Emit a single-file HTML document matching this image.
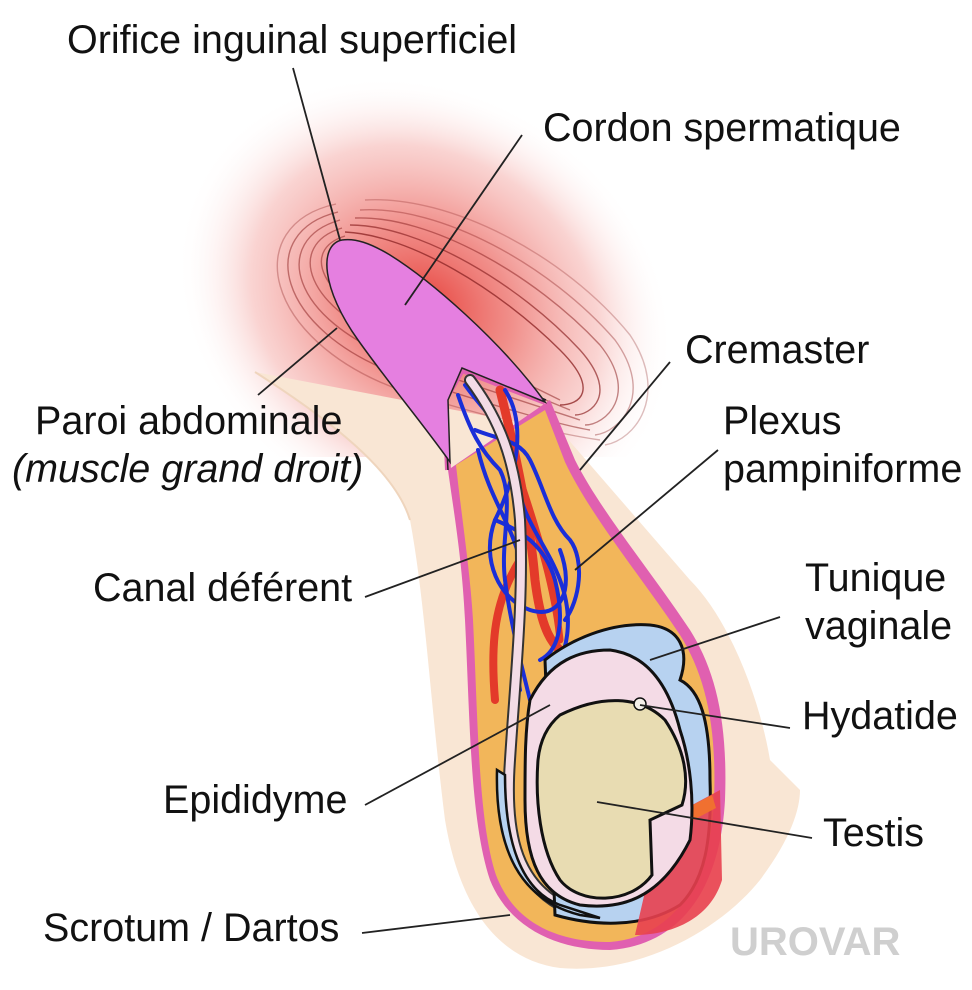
<!DOCTYPE html>
<html><head><meta charset="utf-8"><style>
html,body{margin:0;padding:0;background:#fff}
svg{display:block}
text{font-family:"Liberation Sans",sans-serif;font-size:39.5px;fill:#111}
</style></head><body>
<svg width="972" height="990" viewBox="0 0 972 990" xmlns="http://www.w3.org/2000/svg">
<defs>
<radialGradient id="glow" cx="0.5" cy="0.5" r="0.5">
<stop offset="0" stop-color="#e63a34" stop-opacity="0.95"/>
<stop offset="0.35" stop-color="#ec6a64" stop-opacity="0.75"/>
<stop offset="0.7" stop-color="#f4a8a4" stop-opacity="0.5"/>
<stop offset="1" stop-color="#fff" stop-opacity="0"/>
</radialGradient>
<clipPath id="cut"><rect x="0" y="0" width="972" height="457"/></clipPath>
</defs>
<g clip-path="url(#cut)">
<ellipse cx="425" cy="305" rx="260" ry="215" transform="rotate(32 425 305)" fill="url(#glow)"/>
</g>
<g fill="none" stroke="#902828" stroke-opacity="0.55" stroke-width="1.4">
<path d="M345 236 C300 250 320 300 400 330 C480 360 540 390 560 400"/>
<path d="M342 228 C285 245 305 310 400 345 C480 372 545 400 570 410"/>
<path d="M340 220 C270 240 290 320 400 360 C480 388 550 410 580 420"/>
<path d="M338 212 C255 232 275 330 400 375 C490 405 560 425 590 430"/>
<path d="M336 204 C240 225 262 340 400 390 C495 420 565 435 600 440" stroke-opacity="0.35"/>
<path d="M345 232 C410 235 500 290 560 350 C600 390 580 405 560 405" stroke-opacity="0.8"/>
<path d="M350 225 C420 225 520 285 580 350 C620 395 590 415 575 415" stroke-opacity="0.7"/>
<path d="M355 218 C430 215 535 275 600 345 C640 395 605 425 585 425"/>
<path d="M360 210 C440 205 550 265 615 340 C655 395 620 432 595 435" stroke-opacity="0.4"/>
<path d="M365 200 C450 195 565 255 630 335 C670 395 635 440 605 445" stroke-opacity="0.3"/>
</g>
<path d="M255 372 C330 420 395 470 410 520 C425 600 430 700 445 820 C460 910 500 960 560 968 C640 975 720 930 760 880 C790 840 800 810 800 790 L770 760 C760 700 730 620 690 580 L560 430 Z" fill="#f9e6d4"/>
<path d="M255 372 C330 420 395 470 410 520" fill="none" stroke="#efd5bd" stroke-width="2"/>
<path d="M448 470 C455 520 462 560 465 620 C470 720 470 820 490 880 C510 930 560 950 610 950 C680 945 720 890 725 800 C728 720 715 670 690 630 C650 570 600 510 575 460 L550 400 Z" fill="#e060b0"/>
<path d="M456 465 C462 520 470 570 473 620 C478 720 478 820 496 875 C515 925 560 942 610 942 C672 937 710 885 714 800 C717 725 705 675 680 635 C640 575 590 515 565 462 L545 410 Z" fill="#f2b65a"/>
<path d="M448 470 L445 400 L462 370 L545 402" fill="none" stroke="#e060b0" stroke-width="6"/>
<path d="M448 470 L444 398 L462 366 L546 400" fill="none" stroke="#222" stroke-width="1.5"/>
<path d="M342 240 C318 245 322 290 358 340 C390 385 420 420 450 462 L448 400 L462 368 L545 402 C500 340 430 280 390 255 C370 243 355 238 342 240 Z" fill="#e57fe0" stroke="#222" stroke-width="1.5"/>
<g fill="none" stroke-linecap="round">
<path d="M500 390 C515 450 530 520 535 580 C540 620 548 640 560 650" stroke="#e33a2a" stroke-width="9"/>
<path d="M520 480 C540 540 555 590 560 640" stroke="#e33a2a" stroke-width="7"/>
<path d="M520 560 C495 600 490 640 495 700" stroke="#e33a2a" stroke-width="8"/>
<g stroke="#1a2ed8" stroke-width="4">
<path d="M458 395 C470 430 480 450 500 470 C515 500 500 540 505 580 C510 620 520 660 530 700"/>
<path d="M465 385 C490 420 510 430 515 470 C520 520 545 540 560 580 C575 620 565 650 560 660"/>
<path d="M505 390 C525 420 520 470 495 520 C480 560 500 600 530 610 C560 620 575 590 560 550"/>
<path d="M475 430 C500 440 520 440 530 460 C545 490 550 520 570 540 C585 560 580 600 565 620"/>
<path d="M495 520 C520 530 545 545 555 580 C565 620 560 650 540 660"/>
<path d="M478 450 C490 500 510 520 520 560 C525 600 510 640 520 690"/>
</g>
<path d="M470 380 C500 420 515 460 520 520 C524 600 515 680 510 760 C505 830 515 880 560 905 C585 915 600 905 600 895" stroke="#333" stroke-width="12"/>
<path d="M470 380 C500 420 515 460 520 520 C524 600 515 680 510 760 C505 830 515 880 560 905 C585 915 600 905 600 895" stroke="#f3dce6" stroke-width="8"/>
</g>
<path d="M545 660 C570 640 610 622 650 625 C680 628 690 650 680 680 C700 690 710 720 710 780 C712 840 705 880 680 905 C640 930 590 925 555 915 Z" fill="#b7d2f0" stroke="#111" stroke-width="3"/>
<path d="M655 825 L720 790 L722 880 C710 920 670 935 635 935 L650 870 Z" fill="#e8404f" opacity="0.9"/>
<path d="M655 825 L712 795 L716 808 L663 836 Z" fill="#f07030"/>
<path d="M497 770 C495 850 520 900 580 915 L600 918 L560 905 C520 890 505 840 505 775 Z" fill="#b7d2f0" stroke="#111" stroke-width="2.5"/>
<path d="M530 700 C550 660 580 650 610 650 C650 655 670 690 680 730 C690 760 695 800 690 840 C660 900 620 910 580 905 C540 895 525 860 525 800 C525 760 525 730 530 700 Z" fill="#f4dbe6" stroke="#111" stroke-width="3"/>
<path d="M560 715 C600 695 640 695 665 720 C685 750 690 780 682 805 L650 820 L652 875 C630 905 580 905 560 880 C540 850 535 800 538 760 C540 740 548 725 560 715 Z" fill="#e8dcb2" stroke="#111" stroke-width="3"/>
<circle cx="640" cy="704" r="6" fill="#f4f0ea" stroke="#111" stroke-width="1.5"/>
<g stroke="#222" stroke-width="1.8" fill="none">
<line x1="293" y1="68" x2="340" y2="240"/>
<line x1="522" y1="135" x2="405" y2="305"/>
<line x1="337" y1="328" x2="258" y2="395"/>
<line x1="670" y1="362" x2="580" y2="470"/>
<line x1="718" y1="450" x2="575" y2="570"/>
<line x1="365" y1="597" x2="520" y2="540"/>
<line x1="780" y1="617" x2="650" y2="660"/>
<line x1="790" y1="728" x2="640" y2="705"/>
<line x1="365" y1="805" x2="550" y2="705"/>
<line x1="812" y1="838" x2="597" y2="802"/>
<line x1="362" y1="933" x2="510" y2="915"/>
</g>
<text x="67" y="53">Orifice inguinal superficiel</text>
<text x="543" y="141">Cordon spermatique</text>
<text x="685" y="363">Cremaster</text>
<text x="723" y="434">Plexus</text>
<text x="723" y="482">pampiniforme</text>
<text x="35" y="434">Paroi abdominale</text>
<text x="12" y="482" font-style="italic">(muscle grand droit)</text>
<text x="93" y="601">Canal déférent</text>
<text x="805" y="591">Tunique</text>
<text x="805" y="639">vaginale</text>
<text x="802" y="729">Hydatide</text>
<text x="163" y="813">Epididyme</text>
<text x="823" y="846">Testis</text>
<text x="43" y="941">Scrotum / Dartos</text>
<text x="730" y="955" style="font-size:40px;font-weight:bold;fill:#cfcfcf">UROVAR</text>
</svg>
</body></html>
